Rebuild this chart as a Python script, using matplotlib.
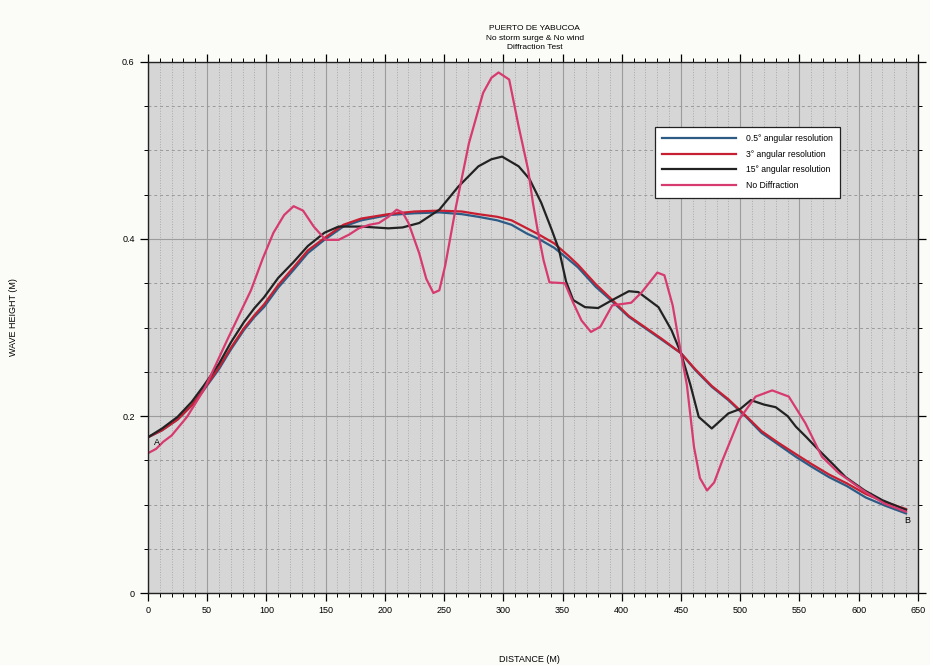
import numpy as np
import matplotlib.pyplot as plt
from matplotlib.ticker import MultipleLocator, FixedLocator, FuncFormatter

plt.rcParams['font.family'] = ['Liberation Sans', 'DejaVu Sans']

# 讀取圖上的數值 (distance in m, wave height in m)
x_05 = [0, 12, 25, 37, 47, 60, 70, 81, 90, 98, 110, 123, 135, 149, 165, 180, 203, 225,
        246, 265, 279, 295, 307, 320, 330, 343, 355, 363, 378, 389, 406, 420, 434, 450,
        462, 476, 490, 505, 518, 532, 547, 560, 575, 590, 606, 622, 640]
h_05 = [0.176, 0.184, 0.196, 0.212, 0.229, 0.253, 0.275, 0.297, 0.312, 0.323, 0.345,
        0.365, 0.384, 0.399, 0.414, 0.421, 0.427, 0.429, 0.430, 0.428, 0.425, 0.421,
        0.416, 0.406, 0.400, 0.390, 0.377, 0.368, 0.346, 0.333, 0.312, 0.299, 0.286,
        0.271, 0.252, 0.233, 0.218, 0.199, 0.181, 0.168, 0.154, 0.143, 0.131, 0.121,
        0.108, 0.099, 0.090]

x_3 = x_05
h_3 = [0.176, 0.184, 0.196, 0.212, 0.230, 0.255, 0.277, 0.299, 0.314, 0.326, 0.348,
       0.368, 0.387, 0.401, 0.416, 0.423, 0.428, 0.431, 0.432, 0.431, 0.428, 0.425,
       0.421, 0.412, 0.405, 0.395, 0.381, 0.371, 0.349, 0.335, 0.313, 0.300, 0.287,
       0.271, 0.253, 0.234, 0.219, 0.200, 0.183, 0.170, 0.157, 0.146, 0.134, 0.124,
       0.112, 0.103, 0.095]

x_15 = [0, 12, 25, 37, 47, 60, 70, 81, 90, 98, 110, 123, 135, 149, 161, 180, 203, 215,
        229, 246, 262, 279, 290, 299, 313, 322, 332, 341, 347, 353, 359, 369, 380, 392,
        406, 414, 431, 442, 450, 458, 465, 476, 490, 500, 509, 520, 530, 540, 547, 556,
        566, 578, 589, 605, 620, 640]
h_15 = [0.176, 0.186, 0.199, 0.216, 0.234, 0.259, 0.283, 0.306, 0.322, 0.334, 0.356,
        0.374, 0.392, 0.407, 0.414, 0.414, 0.412, 0.413, 0.418, 0.433, 0.459, 0.482,
        0.490, 0.493, 0.482, 0.468, 0.441, 0.410, 0.388, 0.352, 0.331, 0.323, 0.322,
        0.331, 0.341, 0.340, 0.323, 0.297, 0.271, 0.235, 0.199, 0.186, 0.203, 0.208,
        0.218, 0.213, 0.210, 0.200, 0.188, 0.176, 0.162, 0.146, 0.131, 0.116, 0.105,
        0.094]

x_nd = [0, 7, 13, 20, 33, 47, 57, 67, 77, 87, 97, 106, 115, 123, 131, 140, 150, 161,
        170, 178, 187, 195, 203, 210, 215, 220, 229, 235, 241, 246, 251, 260, 271, 283,
        290, 296, 305, 313, 321, 325, 329, 334, 339, 352, 359, 366, 374, 382, 392, 408,
        417, 430, 436, 443, 450, 455, 461, 466, 472, 478, 485, 499, 513, 527, 541, 555,
        569, 583, 606, 622, 640]
h_nd = [0.158, 0.163, 0.171, 0.178, 0.199, 0.229, 0.257, 0.286, 0.314, 0.342, 0.378,
        0.407, 0.427, 0.437, 0.432, 0.414, 0.399, 0.399, 0.405, 0.412, 0.416, 0.418,
        0.425, 0.433, 0.430, 0.418, 0.384, 0.355, 0.339, 0.342, 0.370, 0.436, 0.508,
        0.565, 0.582, 0.588, 0.580, 0.527, 0.478, 0.441, 0.410, 0.376, 0.351, 0.350,
        0.328, 0.308, 0.295, 0.301, 0.325, 0.328, 0.340, 0.362, 0.359, 0.325, 0.271,
        0.235, 0.165, 0.130, 0.116, 0.125, 0.150, 0.196, 0.222, 0.229, 0.222, 0.192,
        0.154, 0.136, 0.114, 0.101, 0.092]

labels = ['0.5° angular resolution', '3° angular resolution',
          '15° angular resolution', 'No Diffraction']
colors = ['#2c5b86', '#c81e32', '#222222', '#d63a6e']

fig = plt.figure(figsize=(9.3, 6.65), dpi=100, facecolor='#fbfbf8')
ax = fig.add_axes([0.159, 0.108, 0.828, 0.799])
ax.set_facecolor('#d6d6d6')

# 網格
ax.xaxis.set_major_locator(MultipleLocator(50))
ax.xaxis.set_minor_locator(MultipleLocator(10))
ax.yaxis.set_major_locator(FixedLocator([0, 0.2, 0.4, 0.6]))
ax.yaxis.set_minor_locator(MultipleLocator(0.05))
ax.grid(which='major', axis='both', color='#9c9c9c', linestyle='-', linewidth=0.8)
ax.grid(which='minor', axis='x', color='#aaaaaa', linestyle=':', linewidth=0.7)
ax.grid(which='minor', axis='y', color='#9a9a9a', linestyle=(0, (3, 3)), linewidth=0.7)
ax.set_axisbelow(True)

for xs, hs, c, lab in zip([x_05, x_3, x_15, x_nd], [h_05, h_3, h_15, h_nd], colors, labels):
    ax.plot(xs, hs, color=c, linewidth=1.6, label=lab)

ax.text(8, 0.170, 'A', fontsize=6.5, ha='center', va='center')
ax.text(641, 0.082, 'B', fontsize=6.5, ha='center', va='center')

ax.set_xlim(0, 650)
ax.set_ylim(0, 0.6)
ax.yaxis.set_major_formatter(FuncFormatter(lambda v, p: '%g' % v))

ax.tick_params(which='major', direction='out', length=6, width=0.9, labelsize=6.5,
               top=True, right=True)
ax.tick_params(which='minor', direction='out', length=3, width=0.7, top=True, right=True)
for s in ax.spines.values():
    s.set_color('#222222')
    s.set_linewidth(1.0)

ax.set_xlabel('DISTANCE (M)', fontsize=6.5)
ax.xaxis.set_label_coords(0.495, -0.117)
ax.set_ylabel('WAVE HEIGHT (M)', fontsize=6.5)
ax.yaxis.set_label_coords(-0.169, 0.52)
fig.text(0.575, 0.962, 'PUERTO DE YABUCOA\nNo storm surge & No wind\nDiffraction Test',
         ha='center', va='top', fontsize=6, linespacing=1.45)

leg = ax.legend(loc='upper left', bbox_to_anchor=(0.658, 0.878), fontsize=6.2,
                handlelength=8.5, frameon=True, fancybox=False, borderpad=0.9,
                labelspacing=0.75, handletextpad=1.2, borderaxespad=0)
leg.get_frame().set_edgecolor('#222222')
leg.get_frame().set_facecolor('white')
leg.get_frame().set_linewidth(0.9)
leg.get_frame().set_alpha(1)

plt.savefig('out.png', dpi=100, facecolor=fig.get_facecolor())
